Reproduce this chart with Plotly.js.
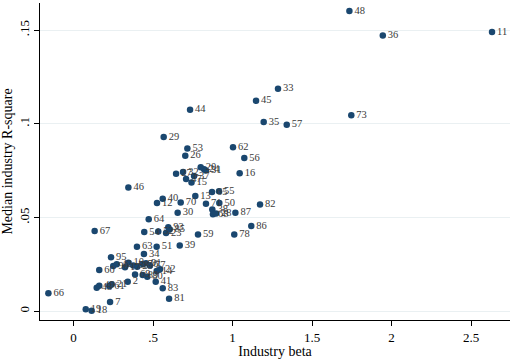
<!DOCTYPE html>
<html>
<head>
<meta charset="utf-8">
<script src="https://cdn.plot.ly/plotly-3.0.1.min.js"></script>
<style>html,body{margin:0;padding:0;background:#fff;}#chart{width:512px;height:359px;}</style>
</head>
<body>
<div id="chart"></div>
<script>
// Industry labels
const industryLabels = ["48","36","11","33","45","35","57","73","44","29","53","26","62","56","16","27","32","47","15","37","20","24","31","46","40","12","70","13","65","55","71","50","82","30","38","68","28","87","64","86","93","85","54","52","23","59","78","67","63","51","39","34","95","60","90","42","17","10","58","25","76","91","77","14","22","69","89","80","2","41","83","81","7","19","18","43","49","61","21","66"];
// Industry beta (x)
const industryBeta = [1.735,1.945,2.632,1.286,1.148,1.196,1.341,1.747,0.733,0.567,0.716,0.703,1.003,1.074,1.045,0.645,0.689,0.708,0.742,0.758,0.800,0.821,0.833,0.345,0.561,0.525,0.674,0.766,0.871,0.915,0.833,0.917,1.173,0.655,0.873,0.877,0.896,1.018,0.473,1.118,0.596,0.604,0.445,0.533,0.582,0.783,1.011,0.133,0.399,0.523,0.668,0.443,0.236,0.162,0.250,0.272,0.324,0.345,0.376,0.401,0.435,0.456,0.481,0.523,0.544,0.387,0.435,0.464,0.341,0.517,0.561,0.601,0.230,0.077,0.114,0.146,0.162,0.225,0.240,-0.158];
// Median industry R-square (y)
const medianR2 = [0.1602,0.1471,0.1490,0.1188,0.1124,0.1010,0.0996,0.1046,0.1076,0.0930,0.0868,0.0830,0.0875,0.0818,0.0736,0.0734,0.0743,0.0706,0.0687,0.0722,0.0768,0.0758,0.0751,0.0660,0.0601,0.0578,0.0580,0.0615,0.0637,0.0640,0.0574,0.0578,0.0570,0.0526,0.0543,0.0518,0.0522,0.0526,0.0491,0.0455,0.0448,0.0437,0.0423,0.0426,0.0418,0.0410,0.0410,0.0428,0.0345,0.0345,0.0351,0.0306,0.0288,0.0220,0.0242,0.0251,0.0235,0.0259,0.0245,0.0238,0.0252,0.0256,0.0245,0.0215,0.0224,0.0197,0.0194,0.0185,0.0158,0.0158,0.0123,0.0067,0.0050,0.0011,0.0003,0.0126,0.0137,0.0135,0.0144,0.0096];
const xTickVals = [0,0.5,1,1.5,2,2.5];
const xTickText = ["0",".5","1","1.5","2","2.5"];
const yTickVals = [0,0.05,0.1,0.15];
const yTickText = ["0",".05",".1",".15"];

const serif = "Liberation Serif, Times New Roman, serif";
const trace = {
  x: industryBeta, y: medianR2, text: industryLabels,
  type: "scatter", mode: "markers+text",
  textposition: "middle right",
  cliponaxis: false,
  marker: {color: "#1a476f", size: 6.5},
  textfont: {family: serif, size: 10.5, color: "#3a3a3a"},
  hoverinfo: "none"
};
const layout = {
  width: 512, height: 359,
  margin: {l: 40, r: 2, t: 3, b: 39, pad: 0},
  paper_bgcolor: "#ffffff", plot_bgcolor: "#ffffff",
  showlegend: false,
  xaxis: {
    range: [-0.2107, 2.745], tickvals: xTickVals, ticktext: xTickText,
    showgrid: false, zeroline: false, showline: true, linecolor: "#000", linewidth: 1,
    ticks: "outside", ticklen: 5, tickcolor: "#000",
    tickfont: {family: serif, size: 13, color: "#000"},
    title: {text: "Industry beta", font: {family: serif, size: 14, color: "#000"}, standoff: 2}
  },
  yaxis: {
    range: [-0.00464, 0.1645], tickvals: yTickVals, ticktext: yTickText,
    tickangle: -90,
    showgrid: true, gridcolor: "#eaf0f2", gridwidth: 1, zeroline: false,
    showline: true, linecolor: "#000", linewidth: 1,
    ticks: "outside", ticklen: 5, tickcolor: "#000",
    tickfont: {family: serif, size: 13, color: "#000"},
    title: {text: "Median industry R-square", font: {family: serif, size: 14, color: "#000"}, standoff: 4}
  }
};
Plotly.newPlot("chart", [trace], layout, {staticPlot: true, displayModeBar: false});
</script>
</body>
</html>
